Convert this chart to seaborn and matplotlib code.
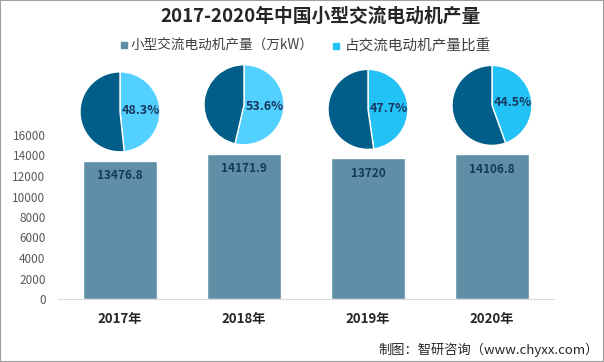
import matplotlib
matplotlib.use('Agg')
import matplotlib.pyplot as plt
from matplotlib.patches import Rectangle
import seaborn as sns
import pandas as pd
import numpy as np

# data
years = ['2017年', '2018年', '2019年', '2020年']
output = [13476.8, 14171.9, 13720, 14106.8]          # 万kW
share = [48.3, 53.6, 47.7, 44.5]                      # %
light_colors = ['#52D0FF', '#52D0FF', '#22C2F7', '#22C2F7']

bar_color = '#5F8EA6'
dark_color = '#005E88'
text_dark = '#17375E'

sns.set_style('white')
plt.rcParams['font.family'] = ['Noto Sans CJK SC', 'DejaVu Sans']

W, H = 604, 362
fig = plt.figure(figsize=(W / 100, H / 100), dpi=100)
ax = fig.add_axes([58 / W, 1 - 299 / H, 496 / W, 164 / H])

df = pd.DataFrame({'year': years, 'output': output})
sns.barplot(data=df, x='year', y='output', color=bar_color, saturation=1,
            width=0.59, ax=ax)

ax.set_ylim(0, 16000)
ax.set_xlim(-0.5, 3.5)
ax.set_yticks(range(0, 16001, 2000))
ax.set_xlabel('')
ax.set_ylabel('')
ax.tick_params(axis='y', length=0, labelsize=8.5, labelcolor='#595959', pad=9)
ax.tick_params(axis='x', length=0, labelsize=9.5, pad=9)
for lab in ax.get_xticklabels():
    lab.set_fontweight('bold')
    lab.set_color('#262626')
for s in ['top', 'right', 'left']:
    ax.spines[s].set_visible(False)
ax.spines['bottom'].set_color('#D9D9D9')

# value labels inside the bars
for i, v in enumerate(output):
    ax.annotate(f'{v:g}', (i, v), xytext=(0, -15), textcoords='offset pixels',
                ha='center', va='center', fontsize=8.5, fontweight='bold',
                color=text_dark)

# pies sitting above each bar
fig.canvas.draw()
r = 40
for i, (v, p) in enumerate(zip(output, share)):
    cx, cy = ax.transData.transform((i, v))
    cy += 49
    pax = fig.add_axes([(cx - r) / W, (cy - r) / H, 2 * r / W, 2 * r / H])
    wedges, texts = pax.pie([p, 100 - p], colors=[light_colors[i], dark_color],
                            startangle=90, counterclock=False)
    t = wedges[0]
    ang = np.deg2rad((t.theta1 + t.theta2) / 2)
    pax.text(0.45 * np.cos(ang) + 0.07, 0.45 * np.sin(ang), f'{p}%',
             ha='center', va='center', fontsize=9, fontweight='bold',
             color=text_dark)
    pax.set_xlim(-1, 1)
    pax.set_ylim(-1, 1)
    pax.set_aspect('equal')

# title
fig.text(0.53, 1 - 16 / H, '2017-2020年中国小型交流电动机产量', ha='center',
         va='center', fontsize=13.5, fontweight='bold', color='#262626')

# legend
fig.patches.append(Rectangle((121 / W, 1 - 48 / H), 6 / W, 6 / H,
                             transform=fig.transFigure, color=bar_color))
fig.text(131 / W, 1 - 45 / H, '小型交流电动机产量（万kW）', ha='left',
         va='center', fontsize=9.8, color='#404040')
fig.patches.append(Rectangle((333 / W, 1 - 49 / H), 6 / W, 6 / H,
                             transform=fig.transFigure, color='#22C2F7'))
fig.text(345 / W, 1 - 46 / H, '占交流电动机产量比重', ha='left',
         va='center', fontsize=10.5, color='#404040')

# source
fig.text(599 / W, 1 - 350 / H, '制图：智研咨询（www.chyxx.com）', ha='right',
         va='center', fontsize=9.5, color='#262626')

fig.patches.append(Rectangle((0, 0), 1, 1, transform=fig.transFigure,
                             fill=False, edgecolor='#A0A0A0', lw=1.5))

fig.savefig('out.png', dpi=100)
